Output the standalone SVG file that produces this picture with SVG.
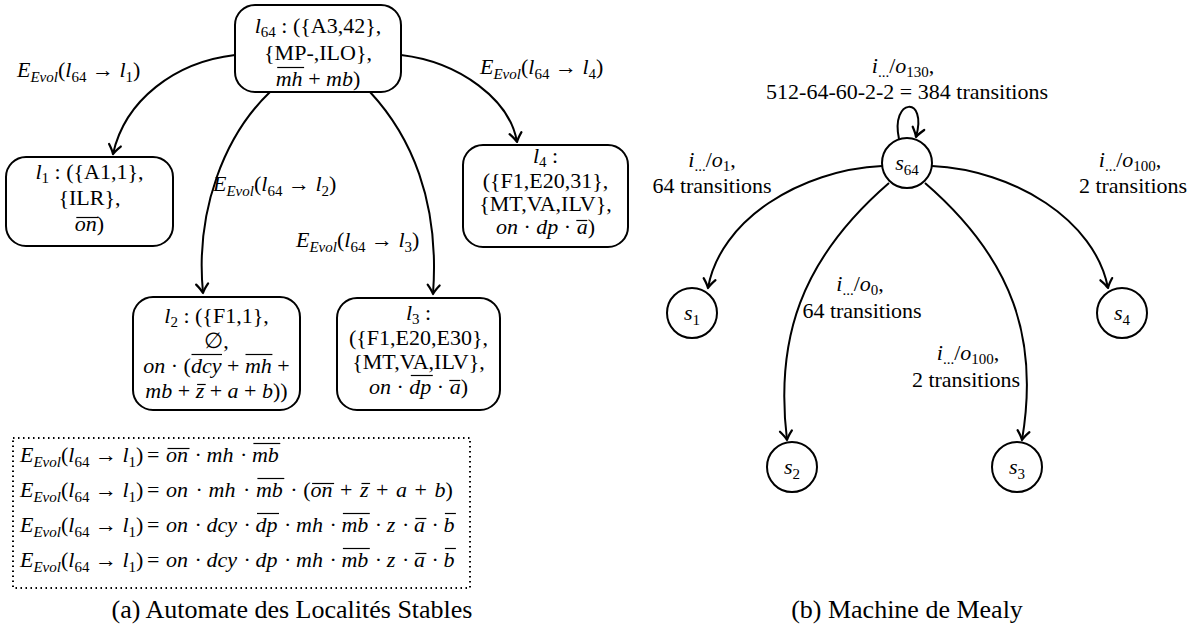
<svg xmlns="http://www.w3.org/2000/svg" width="1194" height="640" viewBox="0 0 1194 640" font-family="'Liberation Serif','Times New Roman',serif">
<defs>
<style>
text{font-family:'Liberation Serif','Times New Roman','DejaVu Serif',serif;font-size:22px;fill:#000}
.c{text-anchor:middle}
.i{font-style:italic}
.s{font-size:15px}
.cap{font-size:26px}
.ol{stroke:#000;stroke-width:1.2}
.box{fill:#fff;stroke:#000;stroke-width:2}
.circ{fill:#fff;stroke:#000;stroke-width:2}
.edge{fill:none;stroke:#000;stroke-width:2;marker-end:url(#ah)}
.dots{fill:none;stroke:#000;stroke-width:2;stroke-dasharray:1.5 3.5}
</style>
<marker id="ah" viewBox="-11 -8 13 16" refX="0" refY="0" markerWidth="13" markerHeight="16" orient="auto" markerUnits="userSpaceOnUse">
<path d="M-9,-6 Q-3.5,-1.5 0,0 Q-3.5,1.5 -9,6" fill="none" stroke="#000" stroke-width="2.2" stroke-linecap="round" stroke-linejoin="round"/>
</marker>
</defs>

<g id="connectors">
<path class="edge" d="M235 55 C175 62 125 100 113 154"/>
<path class="edge" d="M270 92 C225 135 195 210 203 293"/>
<path class="edge" d="M370 92 C410 135 440 200 433 294"/>
<path class="edge" d="M401 55 C460 62 510 100 517 142"/>
<path class="edge" d="M899 139 C890 98 928 95 916 137"/>
<path class="edge" d="M882 166 C800 170 720 220 708 288"/>
<path class="edge" d="M932 166 C1014 170 1095 220 1108 288"/>
<path class="edge" d="M889 183 C800 260 775 340 787 440"/>
<path class="edge" d="M925 183 C1014 260 1039 340 1022 440"/>
</g>

<g id="edge-labels">
<text x="17" y="77"><tspan class="i">E</tspan><tspan class="s i" dy="5">Evol</tspan><tspan dy="-5">(</tspan><tspan class="i">l</tspan><tspan class="s" dy="5">64</tspan><tspan dy="-5"> → </tspan><tspan class="i">l</tspan><tspan class="s" dy="5">1</tspan><tspan dy="-5">)</tspan></text>
<text x="480" y="74"><tspan class="i">E</tspan><tspan class="s i" dy="5">Evol</tspan><tspan dy="-5">(</tspan><tspan class="i">l</tspan><tspan class="s" dy="5">64</tspan><tspan dy="-5"> → </tspan><tspan class="i">l</tspan><tspan class="s" dy="5">4</tspan><tspan dy="-5">)</tspan></text>
<text x="213" y="191"><tspan class="i">E</tspan><tspan class="s i" dy="5">Evol</tspan><tspan dy="-5">(</tspan><tspan class="i">l</tspan><tspan class="s" dy="5">64</tspan><tspan dy="-5"> → </tspan><tspan class="i">l</tspan><tspan class="s" dy="5">2</tspan><tspan dy="-5">)</tspan></text>
<text x="296" y="247"><tspan class="i">E</tspan><tspan class="s i" dy="5">Evol</tspan><tspan dy="-5">(</tspan><tspan class="i">l</tspan><tspan class="s" dy="5">64</tspan><tspan dy="-5"> → </tspan><tspan class="i">l</tspan><tspan class="s" dy="5">3</tspan><tspan dy="-5">)</tspan></text>
</g>

<g id="l64">
<rect class="box" x="235" y="5" width="166" height="87" rx="20"/>
<text class="c" x="318" y="33"><tspan class="i">l</tspan><tspan class="s" dy="4">64</tspan><tspan dy="-4"> : ({A3,42},</tspan></text>
<text class="c" x="318" y="60">{MP-,ILO},</text>
<text class="c" x="318" y="86"><tspan class="i">mh</tspan> + <tspan class="i">mb</tspan>)</text>
<line class="ol" x1="277.2" y1="67.5" x2="304.1" y2="67.5"/>
</g>

<g id="l1">
<rect class="box" x="6" y="157" width="167" height="89" rx="20"/>
<text class="c" x="89.5" y="179"><tspan class="i">l</tspan><tspan class="s" dy="4">1</tspan><tspan dy="-4"> : ({A1,1},</tspan></text>
<text class="c" x="89.5" y="205">{ILR},</text>
<text class="c" x="89.5" y="231"><tspan class="i">on</tspan>)</text>
<line class="ol" x1="76.3" y1="217.5" x2="98.3" y2="217.5"/>
</g>

<g id="l4">
<rect class="box" x="463" y="145" width="165" height="102" rx="20"/>
<text class="c" x="545.5" y="163"><tspan class="i">l</tspan><tspan class="s" dy="4">4</tspan><tspan dy="-4"> :</tspan></text>
<text class="c" x="545.5" y="188">({F1,E20,31},</text>
<text class="c" x="545.5" y="211">{MT,VA,ILV},</text>
<text class="c" x="545.5" y="234"><tspan class="i">on</tspan> · <tspan class="i">dp</tspan> · <tspan class="i">a</tspan>)</text>
<line class="ol" x1="576.3" y1="220.5" x2="587.3" y2="220.5"/>
</g>

<g id="l2">
<rect class="box" x="133" y="297" width="167" height="113" rx="20"/>
<text class="c" x="216.5" y="323"><tspan class="i">l</tspan><tspan class="s" dy="4">2</tspan><tspan dy="-4"> : ({F1,1},</tspan></text>
<text class="c" x="216.5" y="348">∅,</text>
<text class="c" x="216.5" y="373"><tspan class="i">on</tspan> · (<tspan class="i">dcy</tspan> + <tspan class="i">mh</tspan> +</text>
<text class="c" x="216.5" y="398"><tspan class="i">mb</tspan> + <tspan class="i">z</tspan> + <tspan class="i">a</tspan> + <tspan class="i">b</tspan>))</text>
<line class="ol" x1="191.5" y1="354.5" x2="222" y2="354.5"/>
<line class="ol" x1="245.5" y1="354.5" x2="272.4" y2="354.5"/>
<line class="ol" x1="197.1" y1="384.5" x2="205.7" y2="384.5"/>
</g>

<g id="l3">
<rect class="box" x="337" y="298" width="163" height="112" rx="20"/>
<text class="c" x="418.5" y="320"><tspan class="i">l</tspan><tspan class="s" dy="4">3</tspan><tspan dy="-4"> :</tspan></text>
<text class="c" x="418.5" y="345">({F1,E20,E30},</text>
<text class="c" x="418.5" y="369">{MT,VA,ILV},</text>
<text class="c" x="418.5" y="394"><tspan class="i">on</tspan> · <tspan class="i">dp</tspan> · <tspan class="i">a</tspan>)</text>
<line class="ol" x1="410.8" y1="375.5" x2="432.8" y2="375.5"/>
<line class="ol" x1="449.3" y1="380.5" x2="460.3" y2="380.5"/>
</g>

<g id="formulas">
<rect class="dots" x="13" y="438" width="457" height="150"/>
<text x="20" y="462"><tspan class="i">E</tspan><tspan class="s i" dy="5">Evol</tspan><tspan dy="-5">(</tspan><tspan class="i">l</tspan><tspan class="s" dy="5">64</tspan><tspan dy="-5"> → </tspan><tspan class="i">l</tspan><tspan class="s" dy="5">1</tspan><tspan dy="-5">)</tspan></text>
<text y="462"><tspan x="147">=</tspan><tspan x="166" class="i">on</tspan><tspan x="194.5">·</tspan><tspan x="206.5" class="i">mh</tspan><tspan x="239.9">·</tspan><tspan x="251.9" class="i">mb</tspan></text>
<line class="ol" x1="167.5" y1="448.5" x2="189.5" y2="448.5"/>
<line class="ol" x1="253.4" y1="443.5" x2="280.3" y2="443.5"/>

<text x="20" y="497"><tspan class="i">E</tspan><tspan class="s i" dy="5">Evol</tspan><tspan dy="-5">(</tspan><tspan class="i">l</tspan><tspan class="s" dy="5">64</tspan><tspan dy="-5"> → </tspan><tspan class="i">l</tspan><tspan class="s" dy="5">1</tspan><tspan dy="-5">)</tspan></text>
<text y="497"><tspan x="147">=</tspan><tspan x="166" class="i">on</tspan><tspan x="195.5">·</tspan><tspan x="208.5" class="i">mh</tspan><tspan x="242.9">·</tspan><tspan x="255.9" class="i">mb</tspan><tspan x="290.3">·</tspan><tspan x="303.3">(</tspan><tspan x="310.6" class="i">on</tspan><tspan x="340.1">+</tspan><tspan x="360" class="i">z</tspan><tspan x="376.1">+</tspan><tspan x="396" class="i">a</tspan><tspan x="414.5">+</tspan><tspan x="434.4" class="i">b</tspan><tspan x="445.4">)</tspan></text>
<line class="ol" x1="257.4" y1="478.5" x2="284.3" y2="478.5"/>
<line class="ol" x1="312.1" y1="483.5" x2="334.1" y2="483.5"/>
<line class="ol" x1="361.5" y1="483.5" x2="370.1" y2="483.5"/>

<text x="20" y="532"><tspan class="i">E</tspan><tspan class="s i" dy="5">Evol</tspan><tspan dy="-5">(</tspan><tspan class="i">l</tspan><tspan class="s" dy="5">64</tspan><tspan dy="-5"> → </tspan><tspan class="i">l</tspan><tspan class="s" dy="5">1</tspan><tspan dy="-5">)</tspan></text>
<text y="532"><tspan x="147">=</tspan><tspan x="166" class="i">on</tspan><tspan x="194.5">·</tspan><tspan x="206.5" class="i">dcy</tspan><tspan x="243.5">·</tspan><tspan x="255.5" class="i">dp</tspan><tspan x="284">·</tspan><tspan x="296" class="i">mh</tspan><tspan x="329.4">·</tspan><tspan x="341.4" class="i">mb</tspan><tspan x="374.8">·</tspan><tspan x="386.8" class="i">z</tspan><tspan x="401.9">·</tspan><tspan x="413.9" class="i">a</tspan><tspan x="431.4">·</tspan><tspan x="443.4" class="i">b</tspan></text>
<line class="ol" x1="257" y1="513.5" x2="279" y2="513.5"/>
<line class="ol" x1="342.9" y1="513.5" x2="369.8" y2="513.5"/>
<line class="ol" x1="415.4" y1="518.5" x2="426.4" y2="518.5"/>
<line class="ol" x1="444.9" y1="513.5" x2="455.9" y2="513.5"/>

<text x="20" y="567"><tspan class="i">E</tspan><tspan class="s i" dy="5">Evol</tspan><tspan dy="-5">(</tspan><tspan class="i">l</tspan><tspan class="s" dy="5">64</tspan><tspan dy="-5"> → </tspan><tspan class="i">l</tspan><tspan class="s" dy="5">1</tspan><tspan dy="-5">)</tspan></text>
<text y="567"><tspan x="147">=</tspan><tspan x="166" class="i">on</tspan><tspan x="194.5">·</tspan><tspan x="206.5" class="i">dcy</tspan><tspan x="243.5">·</tspan><tspan x="255.5" class="i">dp</tspan><tspan x="284">·</tspan><tspan x="296" class="i">mh</tspan><tspan x="329.4">·</tspan><tspan x="341.4" class="i">mb</tspan><tspan x="374.8">·</tspan><tspan x="386.8" class="i">z</tspan><tspan x="401.9">·</tspan><tspan x="413.9" class="i">a</tspan><tspan x="431.4">·</tspan><tspan x="443.4" class="i">b</tspan></text>
<line class="ol" x1="342.9" y1="548.5" x2="369.8" y2="548.5"/>
<line class="ol" x1="415.4" y1="553.5" x2="426.4" y2="553.5"/>
<line class="ol" x1="444.9" y1="548.5" x2="455.9" y2="548.5"/>
</g>

<g id="s64">
<circle class="circ" cx="907" cy="163" r="25"/>
<text class="c" x="907" y="170"><tspan class="i">s</tspan><tspan class="s" dy="5">64</tspan></text>
</g>
<g id="s1">
<circle class="circ" cx="692" cy="313" r="25"/>
<text class="c" x="692" y="320"><tspan class="i">s</tspan><tspan class="s" dy="5">1</tspan></text>
</g>
<g id="s4">
<circle class="circ" cx="1122" cy="313" r="25"/>
<text class="c" x="1122" y="320"><tspan class="i">s</tspan><tspan class="s" dy="5">4</tspan></text>
</g>
<g id="s2">
<circle class="circ" cx="792" cy="467" r="25"/>
<text class="c" x="792" y="474"><tspan class="i">s</tspan><tspan class="s" dy="5">2</tspan></text>
</g>
<g id="s3">
<circle class="circ" cx="1017" cy="467" r="25"/>
<text class="c" x="1017" y="474"><tspan class="i">s</tspan><tspan class="s" dy="5">3</tspan></text>
</g>

<g id="mealy-labels">
<text class="c" x="903" y="73"><tspan class="i">i</tspan><tspan class="s" dy="4">...</tspan><tspan dy="-4">/</tspan><tspan class="i">o</tspan><tspan class="s" dy="4">130</tspan><tspan dy="-4">,</tspan></text>
<text class="c" x="907" y="99">512-64-60-2-2 = 384 transitions</text>
<text class="c" x="712" y="167"><tspan class="i">i</tspan><tspan class="s" dy="4">...</tspan><tspan dy="-4">/</tspan><tspan class="i">o</tspan><tspan class="s" dy="4">1</tspan><tspan dy="-4">,</tspan></text>
<text class="c" x="712" y="193">64 transitions</text>
<text class="c" x="1130" y="167"><tspan class="i">i</tspan><tspan class="s" dy="4">...</tspan><tspan dy="-4">/</tspan><tspan class="i">o</tspan><tspan class="s" dy="4">100</tspan><tspan dy="-4">,</tspan></text>
<text class="c" x="1133" y="193">2 transitions</text>
<text class="c" x="860" y="291"><tspan class="i">i</tspan><tspan class="s" dy="4">...</tspan><tspan dy="-4">/</tspan><tspan class="i">o</tspan><tspan class="s" dy="4">0</tspan><tspan dy="-4">,</tspan></text>
<text class="c" x="862" y="318">64 transitions</text>
<text class="c" x="968" y="360"><tspan class="i">i</tspan><tspan class="s" dy="4">...</tspan><tspan dy="-4">/</tspan><tspan class="i">o</tspan><tspan class="s" dy="4">100</tspan><tspan dy="-4">,</tspan></text>
<text class="c" x="966" y="387">2 transitions</text>
</g>

<g id="captions">
<text class="c cap" x="292" y="618">(a) Automate des Localités Stables</text>
<text class="c cap" x="907" y="618">(b) Machine de Mealy</text>
</g>
</svg>
